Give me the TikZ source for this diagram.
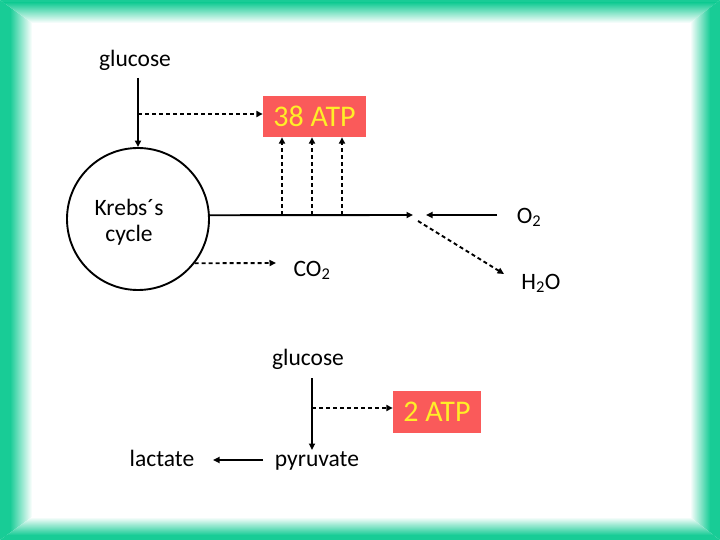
\documentclass[tikz,border=0pt]{standalone}
\usepackage{fontspec}
\setmainfont{Carlito}
\usetikzlibrary{arrows.meta}
\definecolor{frameteal}{RGB}{24,204,150}
\definecolor{boxred}{RGB}{250,90,90}
\definecolor{atpyellow}{RGB}{255,238,40}
\tikzset{
  txt/.style={inner sep=0pt, anchor=base, font=\fontsize{23.5}{26}\selectfont},
  atpbox/.style={fill=boxred, text=atpyellow, inner sep=0pt, font=\fontsize{30}{32}\selectfont},
  arr/.style={line width=1.9pt, -{Triangle[length=6.5pt,width=6pt]}},
  darr/.style={line width=1.9pt, dash pattern=on 4pt off 3pt, -{Triangle[length=6.5pt,width=6pt]}},
}
\begin{document}
\begin{tikzpicture}[x=1pt,y=-1pt]
\useasboundingbox (0,0) rectangle (720,540);
% frame
\fill[white] (0,0) rectangle (720,540);
\begin{scope}
  \clip (0,0) -- (32,23) -- (32,517) -- (0,540) -- cycle;
  \fill[frameteal] (0,0) rectangle (10,540);
  \shade[left color=frameteal, right color=white] (10,0) rectangle (32,540);
\end{scope}
\begin{scope}
  \clip (0,0) -- (720,0) -- (690,23) -- (32,23) -- cycle;
  \fill[frameteal] (0,0) rectangle (720,3);
  \shade[top color=frameteal, bottom color=white] (0,3) rectangle (720,23);
\end{scope}
\begin{scope}
  \clip (720,0) -- (690,23) -- (690,517) -- (720,540) -- cycle;
  \fill[frameteal] (710,0) rectangle (720,540);
  \shade[left color=white, right color=frameteal] (690,0) rectangle (710,540);
\end{scope}
\begin{scope}
  \clip (0,540) -- (32,517) -- (690,517) -- (720,540) -- cycle;
  \fill[frameteal] (0,535) rectangle (720,540);
  \shade[top color=white, bottom color=frameteal] (0,517) rectangle (720,535);
\end{scope}

% nodes
\node[txt] (glu1) at (135,67) {glucose};
\node[atpbox, minimum width=103pt, minimum height=41pt] (atp38) at (314.5,116.5) {38 ATP};
\node[circle, draw, line width=1.9pt, minimum size=142pt, inner sep=0pt] (krebs) at (138,219) {};
\node[txt] (kt1) at (129,215) {Krebs´s};
\node[txt] (kt2) at (129,241) {cycle};
\node[txt] (co2) at (312,276) {CO\textsubscript{2}};
\node[txt] (o2) at (529,223) {O\textsubscript{2}};
\node[txt] (h2o) at (541,289) {H\textsubscript{2}O};
\node[txt] (glu2) at (308,365) {glucose};
\node[atpbox, minimum width=88pt, minimum height=42pt] (atp2) at (437,412) {2 ATP};
\node[txt] (pyr) at (317,466) {pyruvate};
\node[txt] (lac) at (162,466) {lactate};

% coordinates
\coordinate (a1) at (138,78);
\coordinate (d1) at (138,114);
\coordinate (e1) at (413,215);
\coordinate (o2s) at (497,215);
\coordinate (o2e) at (426,215);
\coordinate (h1) at (418,221);
\coordinate (h2) at (504,274);
\coordinate (c2) at (276,263);
\coordinate (v1) at (282,215);
\coordinate (v2) at (312,215);
\coordinate (v3) at (342,215);
\coordinate (b1) at (312,378);
\coordinate (b2) at (312,408);
\coordinate (p1) at (263,460);
\coordinate (l1) at (213,460);

% connectors
\draw[arr] (a1) -- (a1 |- krebs.north);
\draw[darr] (d1) -- (d1 -| atp38.west);
\draw[arr] (krebs.3) -- (e1);
\draw[darr] (v1) -- (v1 |- atp38.south);
\draw[darr] (v2) -- (v2 |- atp38.south);
\draw[darr] (v3) -- (v3 |- atp38.south);
\draw[arr] (o2s) -- (o2e);
\draw[darr] (h1) -- (h2);
\draw[darr] (krebs.-38) -- (c2);
\draw[arr] (b1) -- (312,450);
\draw[darr] (b2) -- (b2 -| atp2.west);
\draw[arr] (p1) -- (l1);
\end{tikzpicture}
\end{document}
